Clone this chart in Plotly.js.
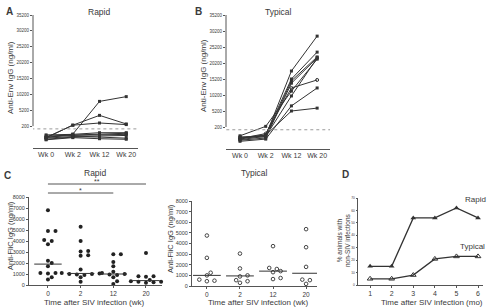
<!DOCTYPE html>
<html><head><meta charset="utf-8">
<script src="https://cdn.plot.ly/plotly-3.0.1.min.js"></script>
<style>html,body{margin:0;padding:0;background:#fff}#chart{width:491px;height:307px}</style>
</head><body><div id="chart"></div>
<script>
// ---------- DATA ----------
const envWeeks = ["Wk 0", "Wk 2", "Wk 12", "Wk 20"];
const envTicks = [200, 5200, 10200, 15200, 20200, 25200, 30200, 35200];
const envCutoff = 175;
const rapidEnv = [
  [95, 127, 8000, 9500],
  [95, 510, 3600, 900],
  [95, 510, 1200, 700],
  [120, 125, 140, 140],
  [110, 120, 130, 135],
  [100, 115, 120, 125],
  [90, 105, 100, 90],
  [80, 100, 110, 115],
  [75, 95, 85, 80]
];
const typicalEnv = [
  [100, 120, 17700, 28600],
  [90, 130, 15200, 23600],
  [110, 110, 14600, 22100],
  [80, 100, 13900, 21800],
  [120, 400, 11400, 21400],
  [95, 140, 12400, 14900],
  [70, 90, 6800, 12400],
  [105, 125, 5200, 6100],
  [85, 115, 9900, 21800]
];
const flicWeeks = ["0", "2", "12", "20"];
const flicTicks = [0, 1000, 2000, 3000, 4000, 5000, 6000, 7000, 8000];
const rapidFlic = [
  [6800, 4900, 4900, 4100, 4000, 3700, 2200, 2000, 1700, 1100, 1100, 1050, 700, 500],
  [5300, 4000, 3100, 3050, 2700, 2650, 1400, 1100, 1050, 1000, 1000, 950, 900, 700, 300],
  [2800, 2800, 2100, 1700, 1200, 1100, 1000, 950, 900, 700, 350, 100],
  [2900, 800, 800, 750, 450, 350, 300, 300, 250, 200]
];
const rapidFlicMedian = [1900, 1050, 1000, 400];
const typicalFlic = [
  [4750, 2650, 1250, 1000, 600, 500, 450],
  [3050, 1650, 1000, 900, 550, 450, 300],
  [3750, 1700, 1600, 1400, 1300, 750, 650],
  [5350, 3650, 1800, 650, 600, 550, 200]
];
const typicalFlicMedian = [1000, 950, 1400, 1200];
const months = [1, 2, 3, 4, 5, 6];
const rapidInf = [15, 15, 54, 54, 62, 54];
const typicalInf = [5, 5, 8, 21, 23, 23];

// ---------- HELPERS ----------
const W = 491, H = 307;
const px = x => x / W;
const py = y => 1 - y / H;
const FONT = "Liberation Sans, Arial, sans-serif";
const TXT = "#3a3a3a";
const LINE = "#333";
const LOW = 1.375;
const tEnv = v => v <= 200 ? v / 200 * LOW : LOW + (v - 200) / 5000;

function swarm(vals, valPerPx, unitPerPx, size) {
  const order = vals.map((v, i) => i).sort((a, b) => vals[a] - vals[b]);
  const placed = []; const offs = new Array(vals.length);
  for (const i of order) {
    let k = 0, off = 0;
    while (true) {
      off = k === 0 ? 0 : (k % 2 ? 1 : -1) * Math.ceil(k / 2) * size * 0.9;
      const ok = placed.every(p => Math.hypot(p.off - off, (p.v - vals[i]) / valPerPx) >= size);
      if (ok) break;
      k++;
    }
    placed.push({ off, v: vals[i] });
    offs[i] = off * unitPerPx;
  }
  return offs;
}

const traces = [];
function envTraces(data, xa, ya, openIdx) {
  data.forEach((row, j) => {
    traces.push({
      type: "scatter", mode: "lines+markers", xaxis: xa, yaxis: ya,
      x: envWeeks.map((w, i) => i), y: row.map(tEnv),
      line: { color: LINE, width: 1 },
      marker: { size: 3, symbol: j === openIdx ? "circle-open" : "square", color: LINE },
      hoverinfo: "skip", showlegend: false
    });
  });
  traces.push({
    type: "scatter", mode: "lines", xaxis: xa, yaxis: ya,
    x: [-1, 4], y: [tEnv(envCutoff), tEnv(envCutoff)],
    line: { color: "#9a9a9a", width: 1, dash: "dot" }, showlegend: false, hoverinfo: "skip"
  });
}
envTraces(rapidEnv, "x", "y", -1);
envTraces(typicalEnv, "x2", "y2", 5);

function flicTraces(data, med, xa, ya, valPerPx, unitPerPx, open) {
  data.forEach((vals, i) => {
    const offs = swarm(vals, valPerPx, unitPerPx, 4.2);
    traces.push({
      type: "scatter", mode: "markers", xaxis: xa, yaxis: ya,
      x: vals.map((v, k) => i + offs[k]), y: vals,
      marker: open ? { size: 3.6, color: "#fff", line: { color: "#444", width: 1 } }
                   : { size: 4, color: "#222" },
      showlegend: false, hoverinfo: "skip", cliponaxis: false
    });
    traces.push({
      type: "scatter", mode: "lines", xaxis: xa, yaxis: ya,
      x: [i - 0.42, i + 0.42], y: [med[i], med[i]],
      line: { color: LINE, width: 1 }, showlegend: false, hoverinfo: "skip"
    });
  });
}
flicTraces(rapidFlic, rapidFlicMedian, "x3", "y3", 8000 / 88, 1 / 32.7, false);
flicTraces(typicalFlic, typicalFlicMedian, "x4", "y4", 8000 / 85, 1 / 33, true);

traces.push({
  type: "scatter", mode: "lines+markers", xaxis: "x5", yaxis: "y5",
  x: months, y: rapidInf, line: { color: LINE, width: 1.3 },
  marker: { symbol: "triangle-up", size: 5, color: LINE }, showlegend: false, cliponaxis: false
});
traces.push({
  type: "scatter", mode: "lines+markers", xaxis: "x5", yaxis: "y5",
  x: months, y: typicalInf, line: { color: LINE, width: 1.3 },
  marker: { symbol: "triangle-up-open", size: 5, color: LINE, line: { width: 1 } }, showlegend: false, cliponaxis: false
});

// ---------- LAYOUT ----------
const axBase = {
  showgrid: false, zeroline: false, showline: true, linecolor: "#555", linewidth: 1,
  ticks: "outside", ticklen: 2, tickcolor: "#555", tickwidth: 1,
  tickfont: { family: FONT, size: 5, color: TXT }, fixedrange: true
};
function xa(dom, range, vals, text, fs, anchor) {
  return Object.assign({}, axBase, {
    domain: dom, range: range, tickvals: vals, ticktext: text, anchor: anchor,
    tickfont: { family: FONT, size: fs, color: TXT }
  });
}
function ya(dom, range, vals, text, fs, anchor, showline) {
  return Object.assign({}, axBase, {
    domain: dom, range: range, tickvals: vals, ticktext: text, anchor: anchor,
    showline: showline, tickfont: { family: FONT, size: fs, color: TXT }
  });
}
const envRange = [0, tEnv(35200)];
const envTickVals = envTicks.map(tEnv);
const envTickText = envTicks.map(String);

const layout = {
  width: W, height: H, margin: { l: 0, r: 0, t: 0, b: 0 },
  paper_bgcolor: "#fff", plot_bgcolor: "rgba(0,0,0,0)", showlegend: false,
  font: { family: FONT, color: TXT },
  xaxis: Object.assign(xa([px(33), px(138)], [-0.49, 3.44], [0, 1, 2, 3], envWeeks, 7, "y"), { ticks: "" }),
  yaxis: ya([py(148), py(15)], envRange, envTickVals, envTickText, 4.5, "x", false),
  xaxis2: Object.assign(xa([px(226), px(330)], [-0.545, 3.5], [0, 1, 2, 3], envWeeks, 7, "y2"), { ticks: "" }),
  yaxis2: ya([py(149), py(15)], envRange, envTickVals, envTickText, 4.5, "x2", false),
  xaxis3: xa([px(29), px(162)], [-0.58, 3.49], [0, 1, 2, 3], flicWeeks, 6.5, "y3"),
  yaxis3: ya([py(285), py(197)], [0, 8000], flicTicks, flicTicks.map(String), 5.5, "x3", true),
  xaxis4: xa([px(192), px(317)], [-0.45, 3.33], [0, 1, 2, 3], flicWeeks, 6.5, "y4"),
  yaxis4: ya([py(286), py(201)], [0, 8000], flicTicks, flicTicks.map(String), 5.5, "x4", true),
  xaxis5: xa([px(358), px(483)], [0.44, 6.23], months, months.map(String), 7, "y5"),
  yaxis5: Object.assign(ya([py(285), py(198)], [0, 70], [0, 10, 20, 30, 40, 50, 60, 70], ["0","10","20","30","40","50","60","70"], 3.3, "x5", true), { ticklen: 1.5 }),
  shapes: [
    { type: "line", xref: "x domain", yref: "y", x0: 0, x1: 0, y0: tEnv(200), y1: tEnv(35200), line: { color: "#555", width: 1 } },
    { type: "line", xref: "x2 domain", yref: "y2", x0: 0, x1: 0, y0: tEnv(200), y1: tEnv(35200), line: { color: "#555", width: 1 } },
    { type: "line", xref: "x3", yref: "paper", x0: 0, x1: 3, y0: py(184), y1: py(184), line: { color: "#555", width: 1 } },
    { type: "line", xref: "x3", yref: "paper", x0: 0, x1: 2, y0: py(193), y1: py(193), line: { color: "#555", width: 1 } }
  ],
  annotations: []
};
const A = layout.annotations;
function txt(x, y, text, size, opts) {
  A.push(Object.assign({ x: px(x), y: py(y), xref: "paper", yref: "paper", text: text, showarrow: false,
    font: { family: FONT, size: size, color: TXT }, xanchor: "center", yanchor: "middle" }, opts || {}));
}
txt(9, 11, "<b>A</b>", 10);
txt(198, 11, "<b>B</b>", 10);
txt(8, 175, "<b>C</b>", 10);
txt(345, 174, "<b>D</b>", 10);
txt(99, 12, "Rapid", 8.5);
txt(278, 12, "Typical", 8.5);
txt(95, 173, "Rapid", 8.5);
txt(254, 173, "Typical", 8.5);
txt(10, 78, "Anti-Env IgG (ng/ml)", 8, { textangle: -90 });
txt(203, 76, "Anti-Env IgG (ng/ml)", 8, { textangle: -90 });
txt(10, 236, "Anti-FliC IgG (ng/ml)", 7.5, { textangle: -90 });
txt(170, 239, "Anti-FliC IgG (ng/ml)", 7.5, { textangle: -90 });
txt(94, 302, "Time after SIV infection (wk)", 8);
txt(258, 302, "Time after SIV infection (wk)", 8);
txt(432, 302, "Time after SIV infection (mo)", 8);
txt(343, 240, "% animals with<br>non-SIV infections", 6.5, { textangle: -90 });
A.push({ x: 1.5, y: py(181), xref: "x3", yref: "paper", text: "**", showarrow: false,
  font: { family: FONT, size: 7, color: TXT } });
A.push({ x: 1, y: py(190), xref: "x3", yref: "paper", text: "*", showarrow: false,
  font: { family: FONT, size: 7, color: TXT } });
A.push({ x: 6, y: rapidInf[5], xref: "x5", yref: "y5", text: "Rapid", showarrow: false, yshift: 18, xshift: -3,
  font: { family: FONT, size: 8, color: TXT } });
A.push({ x: 6, y: typicalInf[5], xref: "x5", yref: "y5", text: "Typical", showarrow: false, yshift: 10, xshift: -6,
  font: { family: FONT, size: 8, color: TXT } });

Plotly.newPlot("chart", traces, layout, { staticPlot: true, displayModeBar: false });
</script></body></html>
